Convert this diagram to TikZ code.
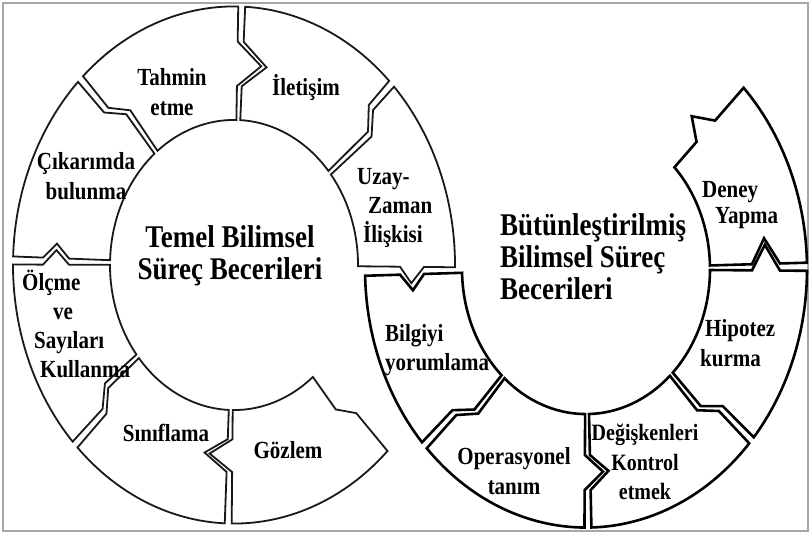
\documentclass[tikz,border=0pt]{standalone}
\usepackage{fontspec}
\setmainfont{Liberation Serif}

% joint profiles of the puzzle pieces (polar, inner r=124, outer R=221)
\newcommand{\triD}[4]{-- ({#1}:{#2+#3}) -- ({#1+(#4)}:{#2}) -- ({#1}:{#2-#3}) -- ({#1}:124)}
\newcommand{\triU}[4]{-- ({#1}:{#2-#3}) -- ({#1+(#4)}:{#2}) -- ({#1}:{#2+#3})}
\newcommand{\zD}[4]{-- ({#1}:{#3+#4}) -- ({#2}:{#3-#4}) -- ({#2}:124)}
\newcommand{\zU}[4]{-- ({#2}:{#3-#4}) -- ({#1}:{#3+#4})}

\begin{document}
\begin{tikzpicture}[x=1pt, y=1pt,
lpiece/.style={draw=black!90, line width=1.8pt, fill=white, line join=miter},
rpiece/.style={draw=black, line width=2.6pt, fill=white, line join=miter},
lbl/.style={font=\bfseries\fontsize{21}{25}\selectfont, align=center, inner sep=0pt, yscale=1.17},
title/.style={font=\bfseries\fontsize{27}{27.5}\selectfont, inner sep=0pt, yscale=1.17}]
\useasboundingbox (0,0) rectangle (811,-535);
\draw[black!35, line width=1.5pt] (3,-3) rectangle (808,-531);

% left ring
\begin{scope}[shift={(234,-265)}, yscale=1.17]
\draw[lpiece] (-0.5:221) arc[start angle=-0.5, end angle=43.6, radius=221] \zD{43.6}{38.6}{184}{8}
  arc[start angle=38.6, end angle=-0.5, radius=124] \triU{-0.5}{178}{12}{-4.5} -- cycle;
\draw[lpiece] (45.4:221) arc[start angle=45.4, end angle=87.1, radius=221] \triD{87.1}{172}{19}{-8}
  arc[start angle=87.1, end angle=40.4, radius=124] \zU{45.4}{40.4}{184}{8} -- cycle;
\draw[lpiece] (88.9:221) arc[start angle=88.9, end angle=133.1, radius=221] \zD{133.1}{128.1}{176}{8}
  arc[start angle=128.1, end angle=88.9, radius=124] \triU{88.9}{172}{19}{-8} -- cycle;
\draw[lpiece] (134.9:221) arc[start angle=134.9, end angle=178.1, radius=221] \triD{178.1}{178}{13}{-4}
  arc[start angle=178.1, end angle=129.9, radius=124] \zU{134.9}{129.9}{176}{8} -- cycle;
\draw[lpiece] (179.9:221) arc[start angle=179.9, end angle=223.1, radius=221] \zD{223.1}{218.1}{172}{8}
  arc[start angle=218.1, end angle=179.9, radius=124] \triU{179.9}{178}{13}{-4} -- cycle;
\draw[lpiece] (224.9:221) arc[start angle=224.9, end angle=267.6, radius=221] \triD{267.6}{163}{14}{-8}
  arc[start angle=267.6, end angle=219.9, radius=124] \zU{224.9}{219.9}{172}{8} -- cycle;
\draw[lpiece] (269.4:221) arc[start angle=269.4, end angle=314, radius=221] \zD{314}{309.5}{168}{8}
  arc[start angle=309.5, end angle=269.4, radius=124] \triU{269.4}{163}{14}{-8} -- cycle;
\end{scope}

% right ring
\begin{scope}[shift={(586,-269)}, yscale=1.17]
\draw[rpiece] (181.5:221) arc[start angle=181.5, end angle=222.1, radius=221] \zD{222.1}{227.1}{172}{8}
  arc[start angle=227.1, end angle=181.5, radius=124] \triU{181.5}{174}{12}{4.5} -- cycle;
\draw[rpiece] (223.9:221) arc[start angle=223.9, end angle=269.6, radius=221] \triD{269.6}{174}{15}{6}
  arc[start angle=269.6, end angle=228.9, radius=124] \zU{223.9}{228.9}{172}{8} -- cycle;
\draw[rpiece] (271.4:221) arc[start angle=271.4, end angle=317.6, radius=221] \zD{317.6}{312.6}{172}{8}
  arc[start angle=312.6, end angle=271.4, radius=124] \triU{271.4}{174}{15}{6} -- cycle;
\draw[rpiece] (319.4:221) arc[start angle=319.4, end angle=359.6, radius=221] \triD{359.6}{180}{14}{7}
  arc[start angle=359.6, end angle=314.4, radius=124] \zU{319.4}{314.4}{172}{8} -- cycle;
\draw[rpiece] (1.4:221) arc[start angle=1.4, end angle=44.5, radius=221] \triD{44.5}{168}{13}{6.5}
  arc[start angle=44.5, end angle=1.4, radius=124] \triU{1.4}{180}{14}{7} -- cycle;
\end{scope}

% labels
\node[title, align=center] (temel) at (230,-256) {Temel Bilimsel\\Süreç Becerileri};
\node[title, align=left, anchor=west] (butun) at (500,-257) {Bütünleştirilmiş\\Bilimsel Süreç\\Becerileri};
\node[lbl] (tahmin) at (172,-92) {Tahmin\\etme};
\node[lbl] (iletisim) at (306,-88) {İletişim};
\node[lbl] (cikarim) at (86,-176) {Çıkarımda\\bulunma};
\node[lbl, align=left, anchor=west] (olcme) at (22,-324) {Ölçme\\\hspace*{31pt}ve\\\hspace*{12pt}Sayıları\\\hspace*{18pt}Kullanma};
\node[lbl] (sinif) at (166,-433) {Sınıflama};
\node[lbl] (gozlem) at (288,-450) {Gözlem};
\node[lbl, align=left, anchor=west] (uzay) at (357,-208) {Uzay-\\\hspace*{11pt}Zaman\\\hspace*{6pt}İlişkisi};
\node[lbl, align=left, anchor=west] (bilgi) at (385,-350) {Bilgiyi\\yorumlama};
\node[lbl] (opera) at (514,-471) {Operasyonel\\tanım};
\node[lbl, font=\bfseries\fontsize{20}{25}\selectfont] (degis) at (645,-462) {Değişkenleri\\Kontrol\\etmek};
\node[lbl, align=left, anchor=west] (hipo) at (700,-343) {\hspace*{5pt}Hipotez\\kurma};
\node[lbl, align=left, anchor=west, font=\bfseries\fontsize{21}{22}\selectfont] (deney) at (702,-205) {Deney\\\hspace*{13pt}Yapma};
\end{tikzpicture}
\end{document}
